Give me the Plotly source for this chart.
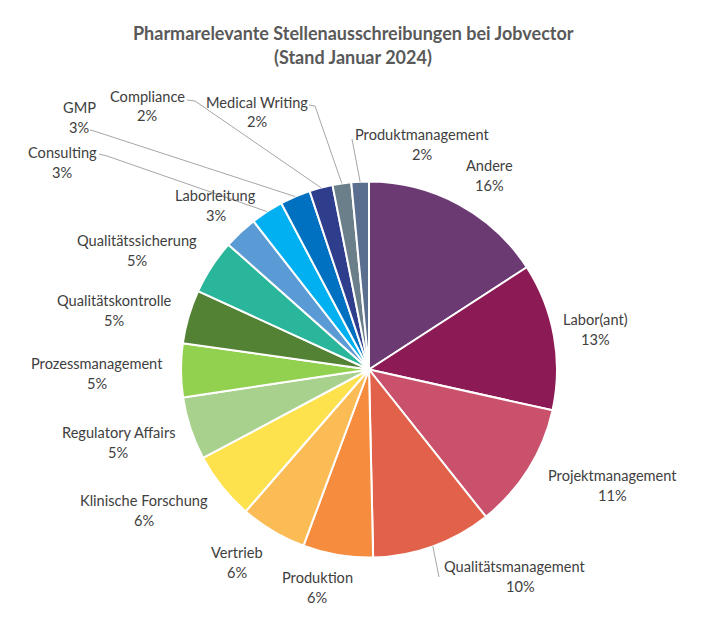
import math
import plotly.graph_objects as go

# ---- data ----
categories = ["Andere", "Labor(ant)", "Projektmanagement", "Qualitätsmanagement",
              "Produktion", "Vertrieb", "Klinische Forschung", "Regulatory Affairs",
              "Prozessmanagement", "Qualitätskontrolle", "Qualitätssicherung",
              "Laborleitung", "Consulting", "GMP", "Compliance", "Medical Writing",
              "Produktmanagement"]
shares = [15.8, 12.6, 10.8, 10.3, 6.0, 5.7, 5.8, 5.4, 4.6, 4.6, 4.7,
          2.9, 2.8, 2.6, 2.0, 1.6, 1.5]
colors = ["#6B3A73", "#8C1A55", "#C9516B", "#E2614A", "#F58C3E", "#FBBC56",
          "#FDE14D", "#A9D18E", "#92D050", "#548235", "#29B69B", "#5B9BD5",
          "#00B0F0", "#0070C0", "#2E3D8C", "#6B7F8B", "#5A6E8F"]
title_lines = ["Pharmarelevante Stellenausschreibungen bei Jobvector",
               "(Stand Januar 2024)"]

# ---- layout geometry (pixels) ----
W, H = 721, 626
CX, CY, R = 369, 369.5, 188

# label centers (name line), percent line is 20px below
label_pos = {
    "Andere": (489, 165), "Labor(ant)": (595, 319), "Projektmanagement": (612, 475),
    "Qualitätsmanagement": (514, 566), "Produktion": (317, 577), "Vertrieb": (237, 552),
    "Klinische Forschung": (144, 500), "Regulatory Affairs": (118, 432),
    "Prozessmanagement": (97, 363), "Qualitätskontrolle": (114, 300),
    "Qualitätssicherung": (137, 240), "Laborleitung": (216, 195),
    "Consulting": (62, 152), "GMP": (79, 107), "Compliance": (147, 96),
    "Medical Writing": (257, 102), "Produktmanagement": (422, 135),
}
pct_dx = {"Qualitätsmanagement": 6, "Andere": 0}
# leader lines: list of waypoints from label towards slice (slice end computed)
leaders = {
    "Produktmanagement": [(352, 139)],
    "Medical Writing": [(309, 105), (315, 106)],
    "Compliance": [(187, 100), (195, 101)],
    "GMP": [(90, 130), (94, 131)],
    "Consulting": [(99, 154), (107, 156)],
    "Qualitätsmanagement": [(439, 577)],
}


def px2paper(x, y):
    return x / W, 1 - y / H


total = sum(shares)
pcts = [f"{round(v / total * 100)}%" for v in shares]

fig = go.Figure(go.Pie(
    labels=categories, values=shares, sort=False, direction="clockwise",
    rotation=0, textinfo="none", hoverinfo="label+percent",
    marker=dict(colors=colors, line=dict(color="white", width=2)),
    domain=dict(x=[(CX - R) / W, (CX + R) / W],
                y=[(H - CY - R) / H, (H - CY + R) / H]),
    showlegend=False,
))

annotations = []
for i, t in enumerate(title_lines):
    x, y = px2paper(353, 33 + i * 24)
    annotations.append(dict(text=f"<b>{t}</b>", x=x, y=y, xref="paper", yref="paper",
                            xanchor="center", yanchor="middle", showarrow=False,
                            font=dict(family="Lato", size=18, color="#595959")))

for name, pct in zip(categories, pcts):
    lx, ly = label_pos[name]
    x, y = px2paper(lx, ly)
    annotations.append(dict(text=name, x=x, y=y, xref="paper", yref="paper",
                            xanchor="center", yanchor="middle", showarrow=False,
                            font=dict(family="Lato", size=14.6, color="#404040")))
    x, y = px2paper(lx + pct_dx.get(name, 0), ly + 20)
    annotations.append(dict(text=pct, x=x, y=y, xref="paper", yref="paper",
                            xanchor="center", yanchor="middle", showarrow=False,
                            font=dict(family="Lato", size=14.6, color="#404040")))

# leader lines to slice mid-angles computed from data
shapes = []
cum = 0.0
for name, v in zip(categories, shares):
    mid = (cum + v / 2) / total * 2 * math.pi
    cum += v
    if name not in leaders:
        continue
    ex = CX + R * math.sin(mid)
    ey = CY - R * math.cos(mid)
    pts = leaders[name] + [(ex, ey)]
    for (x0, y0), (x1, y1) in zip(pts[:-1], pts[1:]):
        a0 = px2paper(x0, y0)
        a1 = px2paper(x1, y1)
        shapes.append(dict(type="line", xref="paper", yref="paper",
                           x0=a0[0], y0=a0[1], x1=a1[0], y1=a1[1],
                           line=dict(color="#A6A6A6", width=1)))

fig.update_layout(
    width=W, height=H, margin=dict(l=0, r=0, t=0, b=0),
    paper_bgcolor="white", plot_bgcolor="white",
    annotations=annotations, shapes=shapes,
)

fig.write_html("out.html")
